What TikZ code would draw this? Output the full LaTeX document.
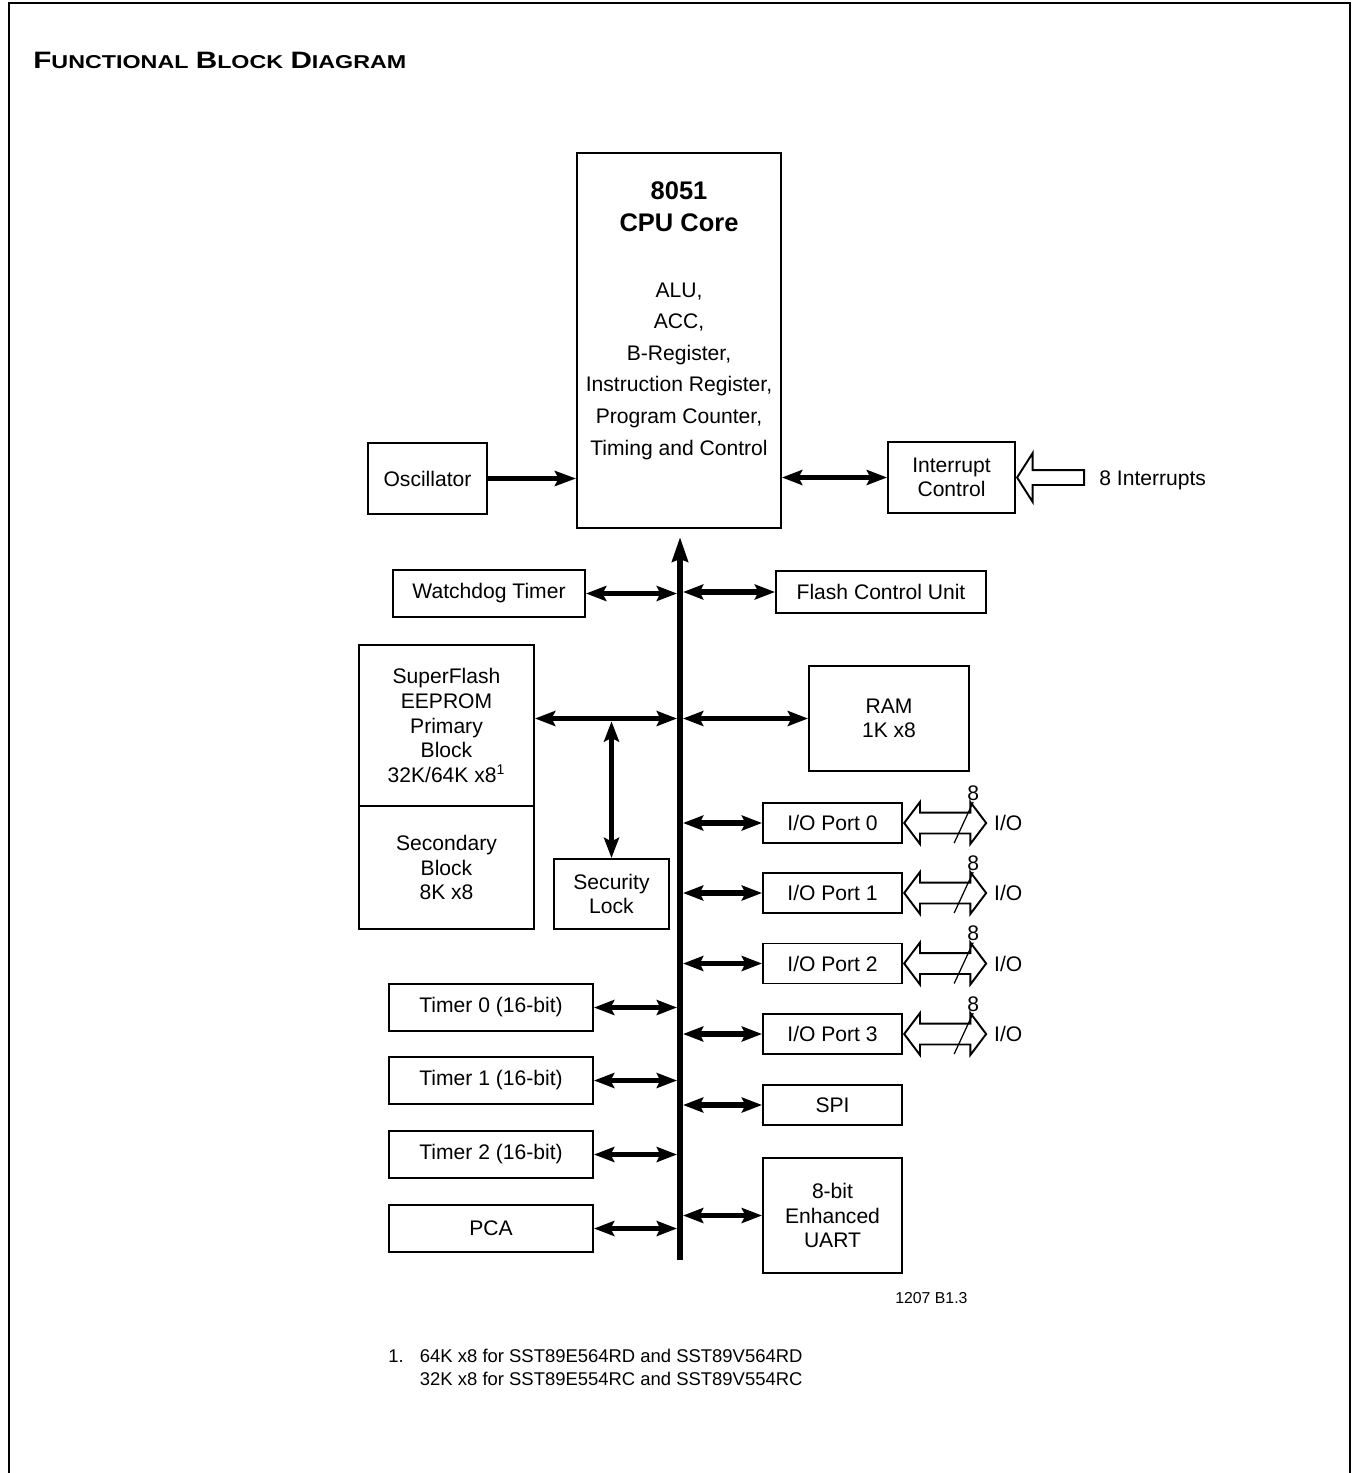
\documentclass[tikz,border=0pt]{standalone}
\usepackage{fontspec}
\setmainfont{Liberation Sans}
\newfontfamily\titlefont[FakeStretch=1.25]{Liberation Sans}
\usetikzlibrary{positioning, arrows.meta, shapes.arrows}

\begin{document}
\begin{tikzpicture}[x=0.02cm, y=0.02cm, font=\fontsize{12}{14}\selectfont]
    % Define styles
    \tikzstyle{block} = [draw, rectangle, line width=1.1pt, inner sep=2pt, align=center]
    \tikzstyle{link} = [{Stealth[length=11.5pt, width=8.5pt, inset=2pt]}-{Stealth[length=11.5pt, width=8.5pt, inset=2pt]}, line width=3pt]
    \tikzstyle{feed} = [-{Stealth[length=12pt, width=8.5pt, inset=2pt]}, line width=3pt]
    \tikzstyle{bus} = [-{Stealth[length=14pt, width=9pt, inset=1.5pt]}, line width=3.4pt]
    \tikzstyle{hollowin} = [draw, single arrow, shape border rotate=180, line width=1.1pt, inner xsep=0pt, inner ysep=0.13cm, minimum height=1.34cm, minimum width=0.94cm, single arrow head extend=0.34cm, single arrow tip angle=115]
    \tikzstyle{hollowio} = [draw, double arrow, line width=1.1pt, inner xsep=0pt, inner ysep=0.19cm, minimum height=1.64cm, minimum width=0.8cm, double arrow head extend=0.21cm, double arrow tip angle=106]
    \tikzstyle{slash} = [line width=0.7pt]
    \tikzstyle{note} = [anchor=west, inner sep=0pt]

    \useasboundingbox (0,0) rectangle (1352,-1473);
    \draw[line width=1.2pt] (9,-1480) -- (9,-3) -- (1350,-3) -- (1350,-1480);

    % Title
    \node (title) [note] at (33,-60) {\titlefont\bfseries{\fontsize{13.5}{15}\selectfont F}{\fontsize{10.6}{15}\selectfont UNCTIONAL} {\fontsize{13.5}{15}\selectfont B}{\fontsize{10.6}{15}\selectfont LOCK} {\fontsize{13.5}{15}\selectfont D}{\fontsize{10.6}{15}\selectfont IAGRAM}};

    % CPU CORE
    \node (cpu) [block, minimum width=4.08cm, minimum height=7.5cm] at (679,-340.5) {};
    \node (cputitle) [align=center, font=\fontsize{14.5}{18}\selectfont\bfseries] at (679,-207) {8051\\CPU Core};
    \node (cpulist) [align=center, font=\fontsize{12}{18}\selectfont] at (679,-371) {ALU,\\ACC,\\B-Register,\\Instruction Register,\\Program Counter,\\Timing and Control};

    \node (osc) [block, minimum width=2.38cm, minimum height=1.42cm] at (427.5,-478.5) {Oscillator};
    \node (intc) [block, minimum width=2.54cm, minimum height=1.42cm] at (951.5,-477.5) {Interrupt\\Control};
    \node (intin) [hollowin, anchor=tip] at (intc.east) {};
    \node (intlabel) [note] at (1099,-480) {8 Interrupts};

    % BUS
    \coordinate (busbottom) at (680,-1260);
    \coordinate (bustop) at (680,-537);
    \coordinate (busL) at (677,0);
    \coordinate (busR) at (683,0);

    % Left side
    \node (wdt) [block, minimum width=3.84cm, minimum height=0.94cm] at (489,-593.5) {Watchdog Timer};
    \node (primary) [block, minimum width=3.5cm, minimum height=3.22cm] at (446.5,-725.5) {SuperFlash\\EEPROM\\Primary\\Block\\32K/64K x8\textsuperscript{1}};
    \node (secondary) [block, minimum width=3.5cm, minimum height=2.46cm, below=-1.1pt of primary] {Secondary\\Block\\8K x8};
    \node (seclock) [block, minimum width=2.3cm, minimum height=1.4cm] at (611.5,-894) {Security\\Lock};
    \node (timer0) [block, minimum width=4.08cm, minimum height=0.94cm] at (491,-1007.5) {Timer 0 (16-bit)};
    \node (timer1) [block, minimum width=4.08cm, minimum height=0.94cm] at (491,-1080.5) {Timer 1 (16-bit)};
    \node (timer2) [block, minimum width=4.08cm, minimum height=0.94cm] at (491,-1154.5) {Timer 2 (16-bit)};
    \node (pca) [block, minimum width=4.08cm, minimum height=0.94cm] at (491,-1228.5) {PCA};

    % Right side
    \node (fcu) [block, minimum width=4.2cm, minimum height=0.84cm] at (881,-592) {Flash Control Unit};
    \node (ram) [block, minimum width=3.2cm, minimum height=2.1cm] at (889,-718.5) {RAM\\1K x8};
    \node (port0) [block, minimum width=2.78cm, minimum height=0.8cm] at (832.5,-823) {I/O Port 0};
    \node (port1) [block, minimum width=2.78cm, minimum height=0.8cm] at (832.5,-893) {I/O Port 1};
    \node (port2) [block, minimum width=2.78cm, minimum height=0.8cm] at (832.5,-963.5) {I/O Port 2};
    \node (port3) [block, minimum width=2.78cm, minimum height=0.8cm] at (832.5,-1034) {I/O Port 3};
    \node (spi) [block, minimum width=2.78cm, minimum height=0.8cm] at (832.5,-1105) {SPI};
    \node (uart) [block, minimum width=2.78cm, minimum height=2.3cm] at (832.5,-1215.5) {8-bit\\Enhanced\\UART};

    % Port pins
    \node (port0io) [hollowio, anchor=west] at (port0.east) {};
    \node (port1io) [hollowio, anchor=west] at (port1.east) {};
    \node (port2io) [hollowio, anchor=west] at (port2.east) {};
    \node (port3io) [hollowio, anchor=west] at (port3.east) {};
    \draw[slash] ([shift={(9,-20)}]port0io.center) -- ([shift={(28,21)}]port0io.center) node (port0bits) [above, inner sep=0.5pt] {8};
    \draw[slash] ([shift={(9,-20)}]port1io.center) -- ([shift={(28,21)}]port1io.center) node (port1bits) [above, inner sep=0.5pt] {8};
    \draw[slash] ([shift={(9,-20)}]port2io.center) -- ([shift={(28,21)}]port2io.center) node (port2bits) [above, inner sep=0.5pt] {8};
    \draw[slash] ([shift={(9,-20)}]port3io.center) -- ([shift={(28,21)}]port3io.center) node (port3bits) [above, inner sep=0.5pt] {8};
    \node (port0ext) [right=0.13cm of port0io, inner sep=0pt] {I/O};
    \node (port1ext) [right=0.13cm of port1io, inner sep=0pt] {I/O};
    \node (port2ext) [right=0.13cm of port2io, inner sep=0pt] {I/O};
    \node (port3ext) [right=0.13cm of port3io, inner sep=0pt] {I/O};

    % Notes
    \node (figid) [note, font=\fontsize{9}{11}\selectfont] at (895,-1298) {1207 B1.3};
    \node (footnote) [note, align=left, font=\fontsize{10.5}{13}\selectfont] at (388,-1367.5) {\makebox[18pt][l]{1.}64K x8 for SST89E564RD and SST89V564RD\\\makebox[18pt][l]{}32K x8 for SST89E554RC and SST89V554RC};

    % CONNECTIONS
    \draw[bus] (busbottom) -- (bustop);
    \draw[feed] (osc.east) -- (cpu.west |- osc.east);
    \draw[link] (cpu.east |- intc.west) -- (intc.west);

    \draw[link] (wdt.east) -- (busL |- wdt.east);
    \draw[link] (busR |- fcu.west) -- (fcu.west);
    \draw[link] (primary.east |- ram.west) -- (busL |- ram.west);
    \draw[link] (busR |- ram.west) -- (ram.west);
    \draw[link, shorten >=1.6pt] (seclock.north) -- (seclock.north |- ram.west);

    \draw[link] (busR |- port0.west) -- (port0.west);
    \draw[link] (busR |- port1.west) -- (port1.west);
    \draw[link] (busR |- port2.west) -- (port2.west);
    \draw[link] (busR |- port3.west) -- (port3.west);
    \draw[link] (busR |- spi.west) -- (spi.west);
    \draw[link] (busR |- uart.west) -- (uart.west);

    \draw[link] (timer0.east) -- (busL |- timer0.east);
    \draw[link] (timer1.east) -- (busL |- timer1.east);
    \draw[link] (timer2.east) -- (busL |- timer2.east);
    \draw[link] (pca.east) -- (busL |- pca.east);

\end{tikzpicture}
\end{document}
